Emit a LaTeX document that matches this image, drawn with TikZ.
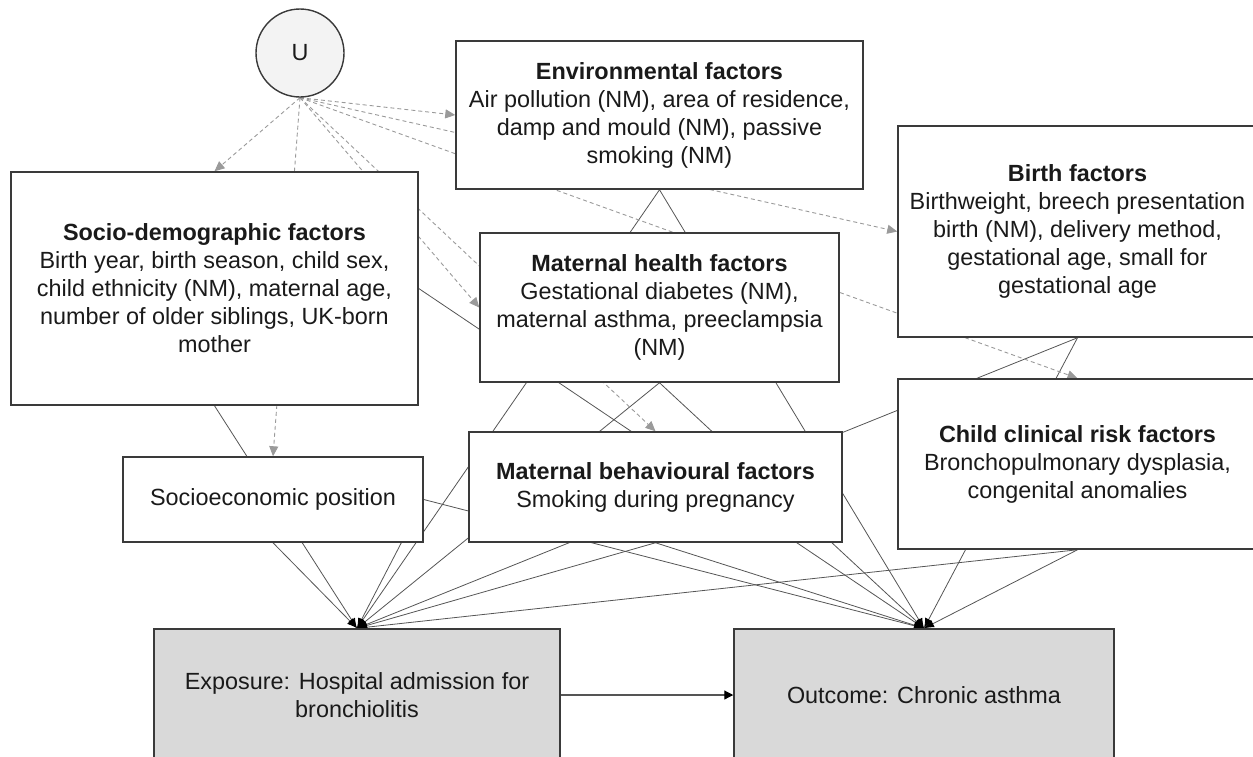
\documentclass[tikz,border=0pt]{standalone}
\usepackage{fontspec}
\setmainfont{Liberation Sans}
\usetikzlibrary{arrows.meta,backgrounds,positioning}
\definecolor{boxline}{HTML}{3A3A3A}
\definecolor{linegray}{HTML}{555555}
\definecolor{dashgray}{HTML}{9A9A9A}
\definecolor{keygray}{HTML}{D9D9D9}
\definecolor{ugray}{HTML}{F3F3F3}
\definecolor{txt}{HTML}{1A1A1A}
\tikzset{
    factor/.style = {draw=boxline, line width=1.5pt, fill=white, rectangle,
        inner sep=0pt, align=center, text=txt,
        font=\fontsize{23.4pt}{28pt}\selectfont},
    keybox/.style = {factor, fill=keygray},
    latent/.style = {draw=boxline, line width=1.4pt, circle, fill=ugray,
        minimum size=88pt, inner sep=0pt, text=txt,
        font=\fontsize{23.4pt}{28pt}\selectfont},
    path/.style = {draw=linegray, line width=0.8pt,
        -{Latex[length=10pt,width=8pt,color=black]}},
    upath/.style = {draw=dashgray, line width=0.9pt, dash pattern=on 4pt off 3pt,
        -{Triangle[length=10pt,width=9pt,color=dashgray]}}
}

\begin{document}
\begin{tikzpicture}[x=1pt, y=-1pt]
        \useasboundingbox (0,0) rectangle (1253,756);
        % unmeasured confounder
        \node [latent] (u) at (300,53) {U};
        % confounder groups
        \node [factor, minimum width=407pt, minimum height=233pt] (socio) at (214.5,288.5)
            {\textbf{Socio-demographic factors}\\Birth year, birth season, child sex,\\child ethnicity (NM), maternal age,\\number of older siblings, UK-born\\mother};
        \node [factor, minimum width=407pt, minimum height=148pt] (env) at (659.5,115)
            {\textbf{Environmental factors}\\Air pollution (NM), area of residence,\\damp and mould (NM), passive\\smoking (NM)};
        \node [factor, minimum width=359pt, minimum height=211pt] (birth) at (1077.5,231.5)
            {\textbf{Birth factors}\\Birthweight, breech presentation\\birth (NM), delivery method,\\gestational age, small for\\gestational age};
        \node [factor, minimum width=359pt, minimum height=149pt] (mh) at (659.5,307.5)
            {\textbf{Maternal health factors}\\Gestational diabetes (NM),\\maternal asthma, preeclampsia\\(NM)};
        \node [factor, minimum width=300pt, minimum height=85pt] (sep) at (273,499.5)
            {Socioeconomic position};
        \node [factor, minimum width=373pt, minimum height=110pt] (mb) at (655.5,487)
            {\textbf{Maternal behavioural factors}\\Smoking during pregnancy};
        \node [factor, minimum width=359pt, minimum height=170pt] (child) at (1077.5,464)
            {\textbf{Child clinical risk factors}\\Bronchopulmonary dysplasia,\\congenital anomalies};
        % exposure and outcome
        \node [keybox, minimum width=406pt, minimum height=132pt] (expo) at (357,695)
            {Exposure: Hospital admission for\\bronchiolitis};
        \node [keybox, minimum width=380pt, minimum height=132pt] (outc) at (924,695)
            {Outcome: Chronic asthma};
        \draw [draw=linegray, line width=1.2pt, -{Triangle[length=9pt,width=9pt,color=black]}] (expo) -- (outc);
        \begin{scope}[on background layer]
            \foreach \src in {socio.south,sep.south,sep.east,env.south,mh.south,mb.south,birth.south,child.south}{
                \draw [path] (\src) -- (expo.north);
            }
            \foreach \src in {socio.east,sep.east,env.south,mh.south,mb.south,birth.south,child.south}{
                \draw [path] (\src) -- (outc.north);
            }
            \foreach \dst in {socio.north,sep.north,env.west,mh.west,mb.north,birth.west,child.north}{
                \draw [upath] (u.south) -- (\dst);
            }
        \end{scope}
\end{tikzpicture}
\end{document}
